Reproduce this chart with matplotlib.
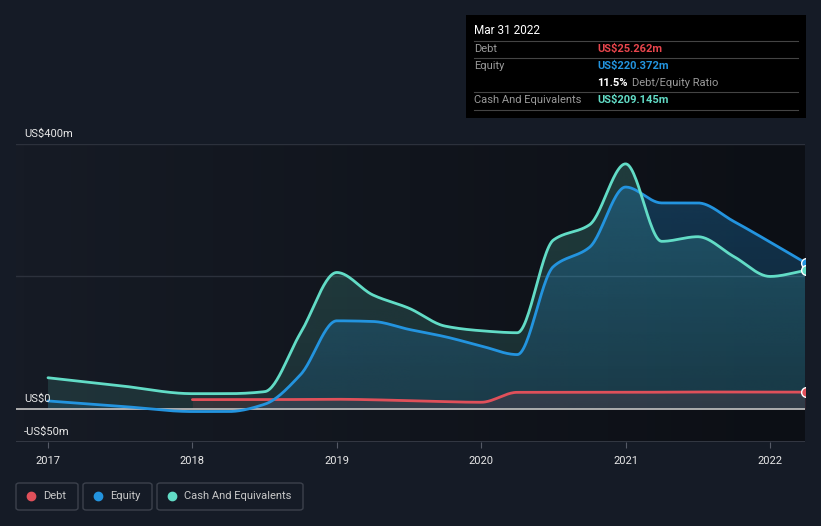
import numpy as np
import matplotlib
matplotlib.use("Agg")
import matplotlib.pyplot as plt
from matplotlib.patches import Rectangle, FancyBboxPatch

plt.rcParams['font.family'] = ['Roboto', 'DejaVu Sans']

# --- data (US$m), decimal years ---
cash_x = [2017.0, 2017.5, 2018.0, 2018.25, 2018.5, 2018.75, 2019.0, 2019.25, 2019.5, 2019.75,
          2020.0, 2020.25, 2020.5, 2020.75, 2021.0, 2021.25, 2021.5, 2021.75, 2022.0, 2022.247]
cash_y = [47, 35, 23, 23, 26, 115, 206, 172, 152, 125,
          118, 115, 255, 278, 370, 253, 260, 230, 200, 209.145]

equity_x = cash_x
equity_y = [12, 4, -4, -4, 7, 52, 133, 132, 120, 109,
            95, 82, 215, 244, 335, 311, 311, 283, 252, 220.372]

debt_x = [2018.0, 2018.5, 2019.0, 2019.5, 2020.0, 2020.25, 2020.5, 2021.0, 2021.5, 2022.0, 2022.247]
debt_y = [14, 14, 14.5, 12.5, 10, 25, 25, 25, 25.5, 25.5, 25.262]

year_ticks = [2017, 2018, 2019, 2020, 2021, 2022]

BG = '#151b26'
CASH = '#62dcc6'
EQUITY = '#2394df'
DEBT = '#e0505a'


def smooth(xs, ys, n=600):
    """monotone cubic curve through the points (drawing only)"""
    x = np.asarray(xs, float)
    y = np.asarray(ys, float)
    h = np.diff(x)
    d = np.diff(y) / h
    m = np.zeros_like(y)
    m[0], m[-1] = d[0], d[-1]
    for i in range(1, len(y) - 1):
        if d[i - 1] * d[i] > 0:
            w1 = 2 * h[i] + h[i - 1]
            w2 = h[i] + 2 * h[i - 1]
            m[i] = (w1 + w2) / (w1 / d[i - 1] + w2 / d[i])
    xx = np.linspace(x[0], x[-1], n)
    idx = np.clip(np.searchsorted(x, xx) - 1, 0, len(x) - 2)
    t = (xx - x[idx]) / h[idx]
    h00 = 2 * t**3 - 3 * t**2 + 1
    h10 = t**3 - 2 * t**2 + t
    h01 = -2 * t**3 + 3 * t**2
    h11 = t**3 - t**2
    yy = h00 * y[idx] + h10 * h[idx] * m[idx] + h01 * y[idx + 1] + h11 * h[idx] * m[idx + 1]
    return xx, yy


def gradient_fill(ax, xx, yy, rgb, a_top, a_bot, z):
    poly = ax.fill_between(xx, yy, 0, color='none', lw=0)
    grad = np.zeros((100, 2, 4))
    grad[..., :3] = matplotlib.colors.to_rgb(rgb)
    grad[..., 3] = np.linspace(a_bot, a_top, 100)[:, None]
    im = ax.imshow(grad, extent=[xx[0], xx[-1], -50, 400], origin='lower',
                   aspect='auto', zorder=z, interpolation='bicubic')
    path = poly.get_paths()[0]
    im.set_clip_path(path, transform=ax.transData)


W, H = 821, 526
fig = plt.figure(figsize=(W / 100, H / 100), dpi=100, facecolor=BG)
ax = fig.add_axes([16 / W, (H - 442) / H, (805 - 16) / W, (442 - 144) / H])
x0 = 2017 - 32 / 144.4
x1 = 2017 + (805 - 48) / 144.4
ax.set_xlim(x0, x1)
ax.set_ylim(-50, 400)
ax.set_facecolor(BG)
for s in ax.spines.values():
    s.set_visible(False)

# background gradient of plot area
bg = np.zeros((2, 100, 3))
c0 = np.array(matplotlib.colors.to_rgb('#161b25'))
c1 = np.array(matplotlib.colors.to_rgb('#0c0f15'))
bg[:] = c0 + (c1 - c0) * np.linspace(0, 1, 100)[:, None]
ax.imshow(bg, extent=[x0, x1, -50, 400], aspect='auto', zorder=0)

# grid lines
for yv in [400, 200]:
    ax.axhline(yv, color='#2c313c', lw=1, zorder=1)
ax.axhline(-50, color='#3a3f4a', lw=1.2, zorder=1)

cx, cy = smooth(cash_x, cash_y)
ex, ey = smooth(equity_x, equity_y)
dx, dy = smooth(debt_x, debt_y)

gradient_fill(ax, cx, cy, CASH, 0.22, 0.12, 2)
gradient_fill(ax, ex, ey, EQUITY, 0.32, 0.12, 3)
ax.fill_between(dx, dy, 0, color=DEBT, alpha=0.12, lw=0, zorder=3)

ax.axhline(0, color='#b8b8b8', lw=1.3, zorder=4)

ax.plot(dx, dy, color=DEBT, lw=2, zorder=5, solid_capstyle='round')
ax.plot(ex, ey, color=EQUITY, lw=2, zorder=6, solid_capstyle='round')
ax.plot(cx, cy, color=CASH, lw=2, zorder=7, solid_capstyle='round')

# end markers, half cut by the plot edge
for xs, ys, c in [(debt_x, debt_y, DEBT), (equity_x, equity_y, EQUITY), (cash_x, cash_y, CASH)]:
    ax.plot(xs[-1], ys[-1], 'o', ms=7, color=c, mec='white', mew=1, zorder=8)

# ticks
ax.set_yticks([])
ax.set_xticks(year_ticks)
ax.set_xticklabels([str(y) for y in year_ticks], color='#e8e8e8', fontsize=8)
ax.tick_params(axis='x', length=4, color='#555a66', pad=6)

# y labels inside plot
ytrans = matplotlib.transforms.blended_transform_factory(fig.transFigure, ax.transData)
for val, lab in [(400, 'US$400m'), (0, 'US$0'), (-50, '-US$50m')]:
    ax.text(24 / W, val + 7, lab, transform=ytrans,
            color='#e8e8e8', fontsize=8, va='bottom', ha='left', zorder=9)

# tooltip box
fig.patches.append(Rectangle((466 / W, 1 - 118 / H), (806 - 466) / W, (118 - 15) / H,
                             transform=fig.transFigure, facecolor='black', edgecolor='none'))


def fx(px):
    return px / W


def fy(py):
    return 1 - py / H


fs = 8
fig.text(fx(474), fy(31), 'Mar 31 2022', color='white', fontsize=8.5, va='center')
for ly in [41, 58, 92, 110]:
    fig.add_artist(plt.Line2D([fx(474), fx(798)], [fy(ly), fy(ly)], color='#444444', lw=0.8))
fig.text(fx(474), fy(49), 'Debt', color='#9a9a9a', fontsize=fs, va='center')
fig.text(fx(597), fy(49), 'US$25.262m', color='#e8454c', fontsize=fs, va='center', fontweight='bold')
fig.text(fx(474), fy(66), 'Equity', color='#9a9a9a', fontsize=fs, va='center')
fig.text(fx(597), fy(66), 'US$220.372m', color=EQUITY, fontsize=fs, va='center', fontweight='bold')
fig.text(fx(597), fy(83), '11.5%', color='white', fontsize=fs, va='center', fontweight='bold')
fig.text(fx(632), fy(83), 'Debt/Equity Ratio', color='#9a9a9a', fontsize=fs, va='center')
fig.text(fx(474), fy(100), 'Cash And Equivalents', color='#9a9a9a', fontsize=fs, va='center')
fig.text(fx(597), fy(100), 'US$209.145m', color=CASH, fontsize=fs, va='center', fontweight='bold')

# legend boxes
for (bx0, bx1, dot_x, label, c) in [(16, 78, 31, 'Debt', DEBT),
                                     (83, 152, 98, 'Equity', EQUITY),
                                     (157, 303, 172, 'Cash And Equivalents', CASH)]:
    fig.patches.append(FancyBboxPatch((fx(bx0), fy(510)), fx(bx1 - bx0), (510 - 483) / H,
                                      boxstyle='round,pad=0,rounding_size=0.004',
                                      transform=fig.transFigure, facecolor=BG,
                                      edgecolor='#3c414c', lw=1))
    fig.add_artist(plt.Line2D([fx(dot_x)], [fy(496)], marker='o', ms=6, color=c, lw=0))
    fig.text(fx(dot_x + 12), fy(496), label, color='#c8c8c8', fontsize=8, va='center')

fig.savefig('out.png', dpi=100, facecolor=BG)
